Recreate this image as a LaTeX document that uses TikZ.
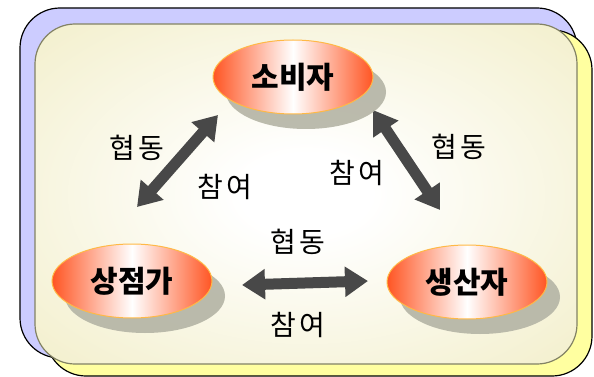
\documentclass[tikz,border=0pt]{standalone}
\usepackage{fontspec}
\newfontfamily\kr{Noto Sans CJK KR}
\usetikzlibrary{arrows.meta,shapes.geometric,shadows}
\definecolor{lav}{RGB}{204,204,255}
\definecolor{yel}{RGB}{255,255,160}
\definecolor{beige}{RGB}{242,238,200}
\definecolor{beigeline}{RGB}{130,130,100}
\definecolor{ered}{RGB}{255,85,35}
\definecolor{eline}{RGB}{255,185,70}
\definecolor{arrgray}{RGB}{72,72,72}
\definecolor{shgray}{RGB}{180,180,165}
\pgfdeclareradialshading{bgglow}{\pgfpoint{0bp}{0bp}}{color(0bp)=(white); color(6bp)=(white); color(38bp)=(beige); color(100bp)=(beige)}
\begin{document}
\begin{tikzpicture}[x=1pt,y=-1pt,
  oval/.style={ellipse, draw=eline, line width=1pt, minimum width=160pt, minimum height=74pt, inner sep=0pt,
    left color=ered, right color=ered, middle color=white,
    drop shadow={shadow xshift=13pt, shadow yshift=-15pt, fill=shgray, opacity=0.9},
    font=\kr\bfseries\fontsize{30}{31}\selectfont},
  lbl/.style={inner sep=0pt, font=\kr\fontsize{28}{29}\selectfont},
  frame/.style={line width=1.2pt, rounded corners=40pt},
  arr/.style={line width=11pt, color=arrgray, {Triangle[width=29pt,length=23pt]}-{Triangle[width=29pt,length=23pt]}}]
\useasboundingbox (0,0) rectangle (594,377);
% frames
\filldraw[frame, fill=lav] (20,8) rectangle (577,358);
\filldraw[frame, fill=yel] (46,30) rectangle (592,376);
\shade[shading=bgglow, rounded corners=40pt] (35,24) rectangle (577,364);
\draw[frame, draw=beigeline] (35,24) rectangle (577,364);
% coordinates for arrow ends
\coordinate (l1) at (137,207);
\coordinate (l2) at (218,115);
\coordinate (r1) at (373,110);
\coordinate (r2) at (440,210);
\coordinate (b1) at (242,285);
\coordinate (b2) at (368,281);
\draw[arr] (l1) -- (l2);
\draw[arr] (r1) -- (r2);
\draw[arr] (b1) -- (b2);
% ovals
\node[oval] (cons) at (293,77) {소비자};
\node[oval] (shop) at (132,281) {상점가};
\node[oval] (prod) at (467,282) {생산자};
% labels
\node[lbl] (t1) at (137,148) {협\hspace{3pt}동};
\node[lbl] (t2) at (225,187) {참\hspace{3pt}여};
\node[lbl] (t3) at (357,173) {참\hspace{3pt}여};
\node[lbl] (t4) at (459,147) {협\hspace{3pt}동};
\node[lbl] (t5) at (298,242) {협\hspace{3pt}동};
\node[lbl] (t6) at (298,325) {참\hspace{3pt}여};
\end{tikzpicture}
\end{document}
